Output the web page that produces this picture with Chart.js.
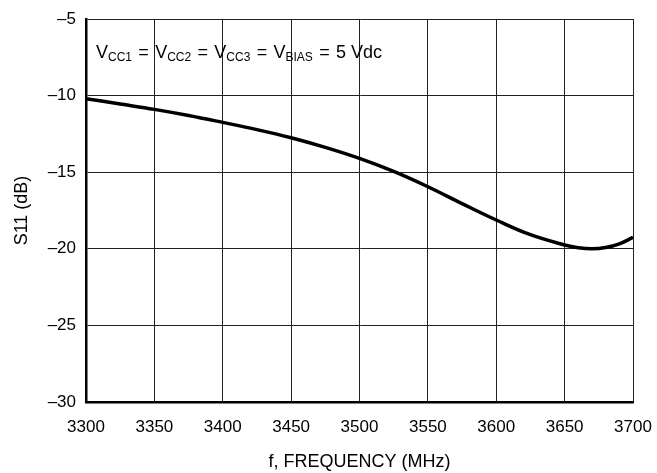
<!DOCTYPE html>
<html>
<head>
<meta charset="utf-8">
<script src="https://cdn.jsdelivr.net/npm/chart.js@4"></script>
<style>
  html, body { margin: 0; padding: 0; background: #fff; }
  #wrap { width: 657px; height: 473px; }
</style>
</head>
<body>
<div id="wrap"><canvas id="s11Chart" width="657" height="473"></canvas></div>
<script>
const FONT = "'Liberation Sans', Arial, sans-serif";

// S11 vs frequency
const freqMHz = [3300, 3325, 3350, 3375, 3400, 3425, 3450, 3475, 3500, 3525,
                 3550, 3575, 3600, 3625, 3650, 3660, 3670, 3680, 3690, 3700];
const s11dB = [-10.2, -10.55, -10.9, -11.3, -11.75, -12.22, -12.75, -13.38, -14.1, -14.95,
               -15.95, -17.05, -18.12, -19.08, -19.75, -19.93, -20.0, -19.92, -19.68, -19.25];

const xTicks = [3300, 3350, 3400, 3450, 3500, 3550, 3600, 3650, 3700];
const yTicks = [-30, -25, -20, -15, -10, -5];

// bias note: [text, isSubscript]
const noteParts = [
  ['V', false], ['CC1', true], [' = ', false],
  ['V', false], ['CC2', true], [' = ', false],
  ['V', false], ['CC3', true], [' = ', false],
  ['V', false], ['BIAS', true], [' = ', false],
  ['5 Vdc', false]
];
const NOTE_WIDTH = 286;

const dash = v => (v < 0 ? '\u2013' + Math.abs(v) : String(v));

// draws the bias conditions inside the plot
const notePlugin = {
  id: 'note',
  afterDraw(chart) {
    const ctx = chart.ctx;
    const area = chart.chartArea;
    const fontOf = sub => (sub ? '12px ' : '18px ') + FONT;
    ctx.save();
    let natural = 0;
    noteParts.forEach(([txt, sub]) => {
      ctx.font = fontOf(sub);
      natural += ctx.measureText(txt).width;
    });
    const gap = Math.max(0, (NOTE_WIDTH - natural) / 8);
    let x = area.left + 10;
    const y = area.top + 39;
    ctx.fillStyle = '#000';
    ctx.textBaseline = 'alphabetic';
    noteParts.forEach(([txt, sub]) => {
      ctx.font = fontOf(sub);
      if (txt === ' = ') x += gap;
      ctx.fillText(txt, x, sub ? y + 2.5 : y);
      x += ctx.measureText(txt).width;
      if (txt === ' = ') x += gap;
    });
    ctx.restore();
  }
};

const s11Chart = new Chart(document.getElementById('s11Chart'), {
  type: 'line',
  data: {
    datasets: [{
      data: freqMHz.map((f, i) => ({ x: f, y: s11dB[i] })),
      borderColor: '#000',
      borderWidth: 3.5,
      pointRadius: 0,
      tension: 0.4,
      fill: false
    }]
  },
  options: {
    responsive: false,
    animation: false,
    layout: { padding: { left: 0, right: 24, top: 19, bottom: 0 } },
    plugins: {
      legend: { display: false },
      tooltip: { enabled: false }
    },
    scales: {
      x: {
        type: 'linear',
        min: 3300,
        max: 3700,
        afterBuildTicks: s => { s.ticks = xTicks.map(v => ({ value: v })); },
        afterFit: s => { s.height = 71; s.paddingLeft = 0; s.paddingRight = 0; },
        grid: { color: '#222', lineWidth: 1, drawTicks: false },
        border: { color: '#000', width: 2.5 },
        ticks: {
          color: '#000',
          padding: 15,
          maxRotation: 0,
          font: { family: FONT, size: 17 },
          callback: v => String(v)
        },
        title: {
          display: true,
          text: 'f, FREQUENCY (MHz)',
          color: '#000',
          padding: { top: 0, bottom: 0 },
          font: { family: FONT, size: 18 }
        }
      },
      y: {
        min: -30,
        max: -5,
        afterBuildTicks: s => { s.ticks = yTicks.map(v => ({ value: v })); },
        afterFit: s => { s.width = 86; s.paddingTop = 0; s.paddingBottom = 0; },
        grid: { color: '#222', lineWidth: 1, drawTicks: false },
        border: { color: '#000', width: 2.5 },
        ticks: {
          color: '#000',
          padding: 10,
          font: { family: FONT, size: 17 },
          callback: v => dash(v)
        },
        title: {
          display: true,
          text: 'S11 (dB)',
          color: '#000',
          padding: { top: 11, bottom: 0 },
          font: { family: FONT, size: 18 }
        }
      }
    }
  },
  plugins: [notePlugin]
});
</script>
</body>
</html>
